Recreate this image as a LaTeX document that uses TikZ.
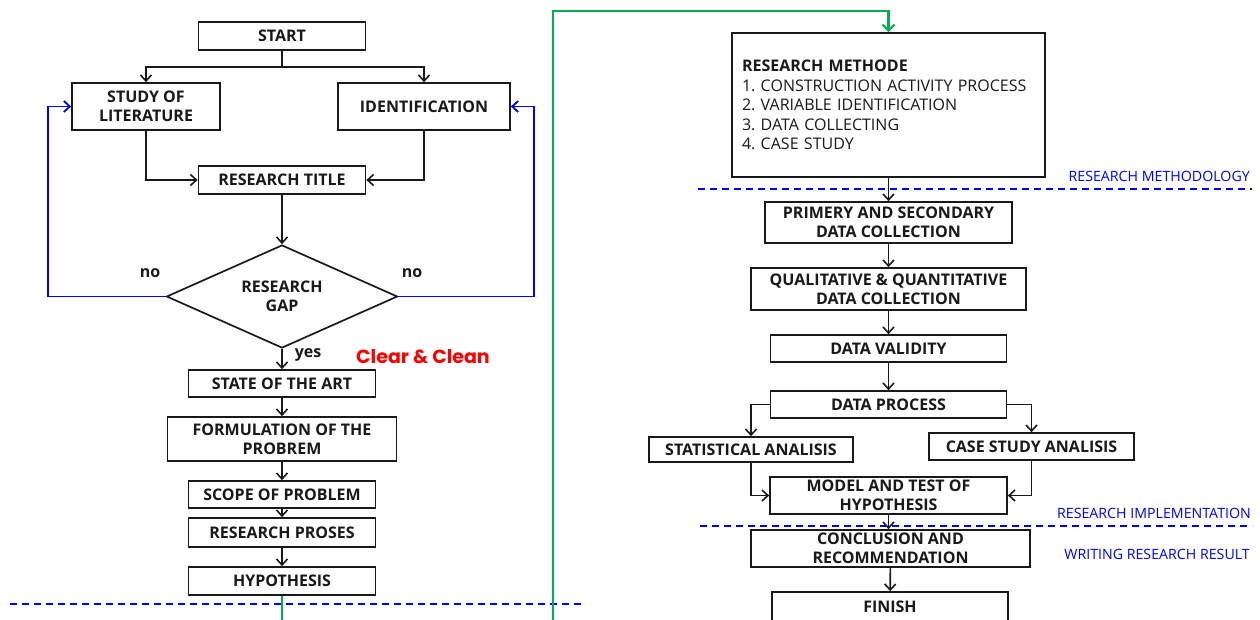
\documentclass[tikz,border=0pt]{standalone}
\usepackage{fontspec}
\setmainfont{Open Sans}
\newfontfamily\roundfont{Poppins}
\usetikzlibrary{arrows.meta,shapes.geometric}
\definecolor{linkgreen}{RGB}{0,176,80}

\begin{document}
\frenchspacing
\begin{tikzpicture}[x=1pt,y=-1pt,
  box/.style={draw=black!90,line width=1.7pt,inner sep=0pt,align=center,
    text=black!90,font=\bfseries\fontsize{16}{19}\selectfont},
  wh/.style 2 args={minimum width=#1pt,minimum height=#2pt},
  dec/.style={box,shape=diamond,aspect=2.24,wh={231}{103}},
  flow/.style={draw=black!90,line width=1.6pt,-{Straight Barb[length=6pt,width=11pt]}},
  back/.style={draw=blue,line width=1.8pt,-{Straight Barb[length=6pt,width=11pt]}},
  link/.style={draw=linkgreen,line width=2.2pt,-{Straight Barb[length=6pt,width=12pt]}},
  sep/.style={draw=blue,line width=1.4pt,dash pattern=on 7pt off 5pt},
  tag/.style={font=\bfseries\fontsize{16}{18}\selectfont,text=black!90,inner sep=0pt},
  phase/.style={font=\fontsize{14.2}{16}\selectfont,text=blue,inner sep=0pt,anchor=east}]
  \clip (0,0) rectangle (1260,619);
  \useasboundingbox (0,0) rectangle (1260,619);
  \fill[white] (0,0) rectangle (1260,619);
  % left column
  \node[box,wh={167}{28}] (start) at (282,36) {START};
  \node[box,wh={148}{47}] (study) at (146,106.5) {STUDY OF\\LITERATURE};
  \node[box,wh={172}{47}] (ident) at (424,106.5) {IDENTIFICATION};
  \node[box,wh={167}{28}] (title) at (282,180) {RESEARCH TITLE};
  \node[dec] (gap) at (282,296.5) {RESEARCH\\GAP};
  \node[box,wh={187}{27}] (state) at (282,383.5) {STATE OF THE ART};
  \node[box,wh={229}{44}] (formul) at (282,439) {FORMULATION OF THE\\PROBREM};
  \node[box,wh={187}{27}] (scope) at (282,494.5) {SCOPE OF PROBLEM};
  \node[box,wh={187}{29}] (proses) at (282,532.5) {RESEARCH PROSES};
  \node[box,wh={187}{28}] (hypo) at (282,581) {HYPOTHESIS};
  \coordinate (split) at (282,67);
  \coordinate (lft) at (48,296.5);
  \coordinate (rgt) at (534,296.5);
  \coordinate (gdown) at (282,640);
  \coordinate (gup) at (553,11);
  \draw[draw=black!90,line width=1.6pt] (start) -- (split);
  \draw[flow] (split) -| (study);
  \draw[flow] (split) -| (ident);
  \draw[flow] (study) |- (title);
  \draw[flow] (ident) |- (title);
  \draw[flow] (title) -- (gap);
  \draw[back] (gap.west) -- (lft) |- (study);
  \draw[back] (gap.east) -- (rgt) |- (ident);
  \draw[flow] (gap.south) -- (state);
  \foreach \a/\b in {state/formul,formul/scope,scope/proses,proses/hypo}
    \draw[flow] (\a) -- (\b);
  \node[tag] (noL) at (150,273) {no};
  \node[tag] (noR) at (412,273) {no};
  \node[tag] (yes) at (308,355) {yes};
  \node[inner sep=0pt,text=red,font=\roundfont\bfseries\fontsize{19}{21}\selectfont] (clear) at (423,357) {Clear \& Clean};
  % right column
  \node[box,wh={313}{144},align=left,text width=293pt,inner xsep=10pt,
    font=\fontsize{16}{19.5}\selectfont] (methode) at (888.5,105)
    {\textbf{RESEARCH METHODE}\\1. CONSTRUCTION ACTIVITY PROCESS\\2. VARIABLE IDENTIFICATION\\3. DATA COLLECTING\\4. CASE STUDY};
  \node[box,wh={247}{41}] (primery) at (888.5,222.5) {PRIMERY AND SECONDARY\\DATA COLLECTION};
  \node[box,wh={275}{42}] (quali) at (888.5,289) {QUALITATIVE \& QUANTITATIVE\\DATA COLLECTION};
  \node[box,wh={236}{27}] (valid) at (888.5,348.5) {DATA VALIDITY};
  \node[box,wh={236}{27}] (process) at (888.5,404.5) {DATA PROCESS};
  \node[box,wh={204}{25}] (stat) at (751,449.5) {STATISTICAL ANALISIS};
  \node[box,wh={205}{27}] (casest) at (1031.5,446.5) {CASE STUDY ANALISIS};
  \node[box,wh={237}{37}] (model) at (888.5,495.5) {MODEL AND TEST OF\\HYPOTHESIS};
  \node[box,wh={279}{37}] (concl) at (890.5,548.5) {CONCLUSION AND\\RECOMMENDATION};
  \node[box,wh={236}{30}] (finish) at (890,607) {FINISH};
  \foreach \a/\b in {methode/primery,primery/quali,quali/valid,valid/process,concl/finish}
    \draw[flow] (\a) -- (\b);
  \draw[flow] (model.south) -- (model.south |- concl.north);
  \draw[flow] (process.west) -| (stat);
  \draw[flow] (process.east) -| (casest);
  \draw[flow] (stat) |- (model);
  \draw[flow] (casest) |- (model);
  % phase lines
  \coordinate (d1a) at (10,604);  \coordinate (d1b) at (583,604);
  \coordinate (d2a) at (698,189); \coordinate (d2b) at (1252,189);
  \coordinate (d3a) at (700,526); \coordinate (d3b) at (1252,526);
  \draw[sep] (d1a) -- (d1b);
  \draw[sep] (d2a) -- (d2b);
  \draw[sep] (d3a) -- (d3b);
  \node[phase] (pm) at (1250,176) {RESEARCH METHODOLOGY};
  \node[phase] (pi) at (1251,513) {RESEARCH IMPLEMENTATION};
  \node[phase] (pw) at (1250,554) {WRITING RESEARCH RESULT};
  % green link
  \draw[link] (hypo.south) -- (gdown) -| (gup) -| (methode.north);
\end{tikzpicture}
\end{document}
